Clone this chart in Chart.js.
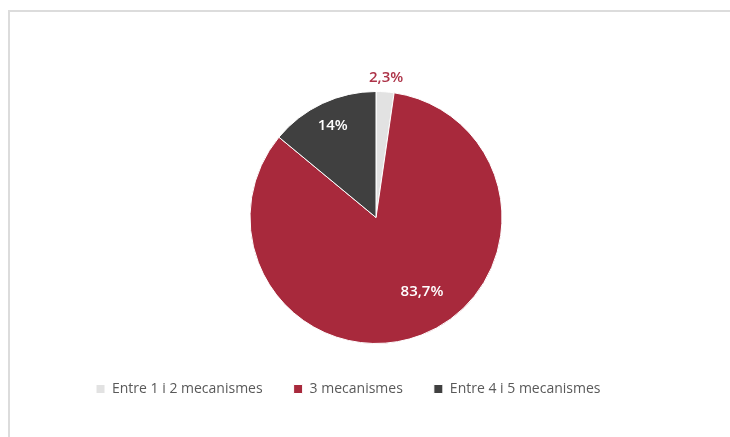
<!DOCTYPE html>
<html>
<head>
<meta charset="utf-8">
<script src="https://cdn.jsdelivr.net/npm/chart.js@4/dist/chart.umd.min.js"></script>
<style>
  html, body { margin: 0; padding: 0; background: #ffffff; }
  #wrap { position: relative; width: 730px; height: 437px; overflow: hidden; }
  #frame { position: absolute; left: 8px; top: 10px; width: 740px; height: 440px;
           border-left: 2px solid #dcdcdc; border-top: 2px solid #dcdcdc; box-sizing: border-box; }
  canvas { position: absolute; left: 0; top: 0; }
</style>
</head>
<body>
<div id="wrap">
  <div id="frame"></div>
  <canvas id="c" width="730" height="437"></canvas>
</div>
<script>
const categories = ['Entre 1 i 2 mecanismes', '3 mecanismes', 'Entre 4 i 5 mecanismes'];
const values = [2.3, 83.7, 14];
const valueLabels = ['2,3%', '83,7%', '14%'];

const sliceColors = ['#e2e2e2', '#a8293c', '#404040'];
const labelColors = ['#ad3348', '#ffffff', '#ffffff'];
const labelRadius = [1.113, 0.695, 0.806];
const labelAngleShift = [0, -10.6, 0];

const sliceLabels = {
  id: 'sliceLabels',
  afterDatasetsDraw(chart) {
    const ctx = chart.ctx;
    const meta = chart.getDatasetMeta(0);
    ctx.save();
    ctx.font = '600 15px "Open Sans", sans-serif';
    ctx.textAlign = 'center';
    ctx.textBaseline = 'middle';
    meta.data.forEach((arc, i) => {
      const p = arc.getProps(['x', 'y', 'startAngle', 'endAngle', 'outerRadius'], true);
      const a = (p.startAngle + p.endAngle) / 2 + labelAngleShift[i] * Math.PI / 180;
      const r = p.outerRadius * labelRadius[i];
      ctx.fillStyle = labelColors[i];
      ctx.fillText(valueLabels[i], p.x + Math.cos(a) * r, p.y + Math.sin(a) * r);
    });
    ctx.restore();
  }
};

new Chart(document.getElementById('c'), {
  type: 'pie',
  data: {
    labels: categories,
    datasets: [{
      data: values,
      backgroundColor: sliceColors,
      borderColor: '#ffffff',
      borderWidth: 1,
      radius: 126
    }]
  },
  options: {
    responsive: false,
    animation: false,
    layout: { padding: { left: 65, right: 43, top: 84, bottom: 31 } },
    plugins: {
      tooltip: { enabled: false },
      legend: {
        position: 'bottom',
        align: 'start',
        labels: {
          boxWidth: 9,
          boxHeight: 9,
          padding: 31,
          color: '#595959',
          font: { family: '"Open Sans", sans-serif', size: 14 }
        }
      }
    }
  },
  plugins: [sliceLabels]
});
</script>
</body>
</html>
